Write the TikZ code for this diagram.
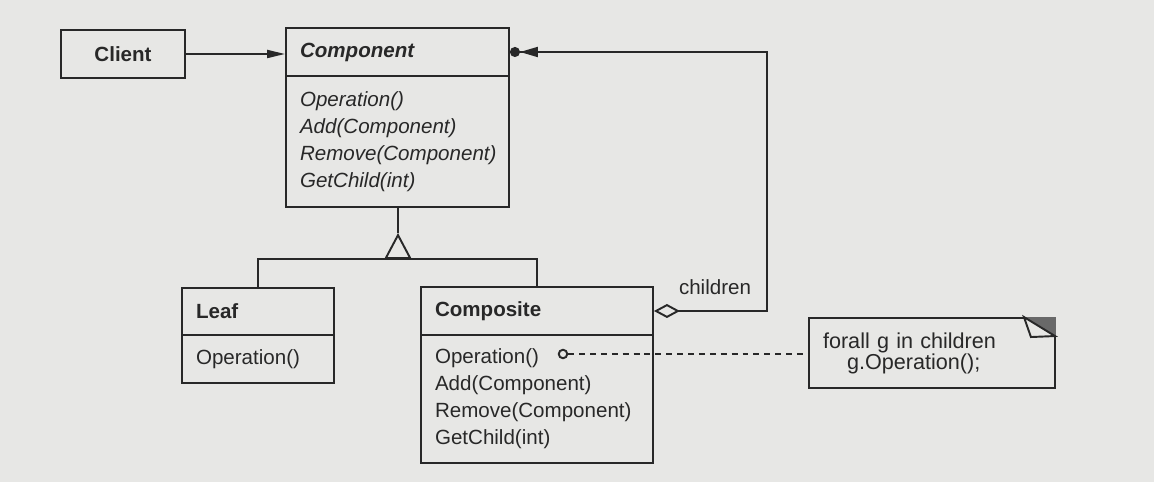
\documentclass[tikz,border=0pt]{standalone}
\usepackage{fontspec}
\setmainfont{Liberation Sans}
\usetikzlibrary{arrows.meta}
\definecolor{paper}{RGB}{231,231,229}
\definecolor{ink}{RGB}{40,40,40}
\newcommand{\diagfont}{\fontsize{11.7}{15.4}\selectfont}
\begin{document}
\begin{tikzpicture}[auto, x=0.02cm, y=-0.02cm, line width=1.1pt, color=ink,
    every node/.style={font=\diagfont},
    classname/.style={draw, rectangle, text width=#1, inner xsep=0.28cm, minimum height=0.96cm, align=left, font=\diagfont\bfseries},
    classbody/.style={draw, rectangle, text width=#1, inner xsep=0.28cm, align=left},
    notebox/.style={draw, rectangle, text width=4.36cm, inner xsep=0.28cm, minimum height=1.4cm, align=left, font=\fontsize{12.3}{12}\selectfont}]
   \fill[paper] (0,0) rectangle (1154,482);

   \node[draw, minimum width=2.48cm, minimum height=0.96cm, font=\diagfont\bfseries] (client) at (123,54) {Client};
   \node[classname=3.9cm, font=\diagfont\bfseries\itshape] (componenthead) at (397.5,52) {Component};
   \node[classbody=3.9cm, minimum height=2.62cm, font=\diagfont\itshape] (componentbody) at (397.5,141.5) {Operation()\\Add(Component)\\Remove(Component)\\GetChild(int)};
   \node[classname=2.48cm, minimum height=0.94cm] (leafhead) at (258,311.5) {Leaf};
   \node[classbody=2.48cm, minimum height=0.96cm] (leafbody) at (258,359) {Operation()};
   \node[classname=4.08cm] (compositehead) at (537,311) {Composite};
   \node[classbody=4.08cm, minimum height=2.56cm] (compositebody) at (537,399) {Operation()\\Add(Component)\\Remove(Component)\\GetChild(int)};
   \node[notebox] (note) at (932,353) {forall g in children\\\hspace*{0.48cm}g.Operation();};
   \node[circle, draw, inner sep=0pt, minimum size=0.17cm] (opdot) at (563,354) {};
   \node (childlabel) at (715,287) {children};

   \coordinate (apex) at (398,233);
   \coordinate (branch) at (398,259);
   \coordinate (corner) at (767,52);

   \draw[-{Triangle[length=0.36cm,width=0.16cm]}] (client.east) to (client.east -| componenthead.west);
   \draw (componentbody.south -| apex) to (apex);
   \draw[-{Triangle[open,length=0.52cm,width=0.54cm]}] (branch) to (apex);
   \draw (leafhead.north) |- (branch) -| (compositehead.north);
   \draw[{Diamond[open,length=0.52cm,width=0.28cm]}-{Triangle[length=0.36cm,width=0.2cm]Circle[length=0.2cm]}] (compositehead.east) -| (corner) -- (componenthead.east);
   \draw[dash pattern=on 3.4pt off 2.8pt] (opdot) to (opdot -| note.west);

   \begin{scope}[shift={(note.north east)}]
   \fill[ink!70] (-32,0) -- (0,0) -- (0,20) -- cycle;
   \filldraw[fill=paper] (-32,0) -- (-25,20) -- (-1,19) -- cycle;
   \end{scope}
 \end{tikzpicture}
\end{document}
